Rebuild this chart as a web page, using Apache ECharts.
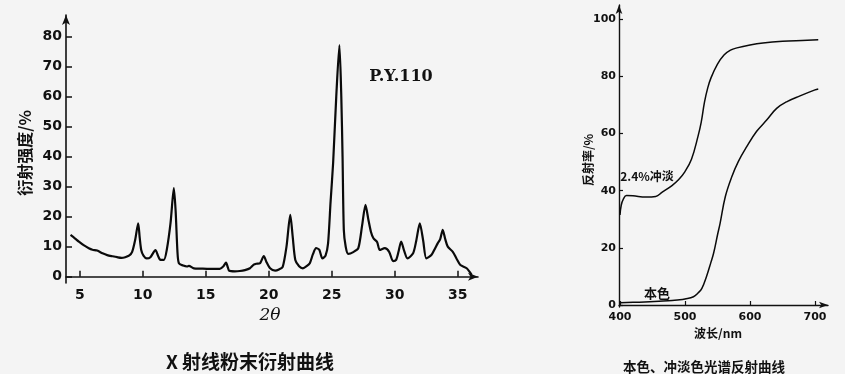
<!DOCTYPE html>
<html>
<head>
<meta charset="utf-8">
<script src="https://cdn.jsdelivr.net/npm/echarts@6/dist/echarts.min.js"></script>
<style>
html,body{margin:0;padding:0;background:#f4f4f4;}
#chart{width:845px;height:374px;}
</style>
</head>
<body>
<div id="chart"></div>
<script>
// ---- Left chart: X-ray powder diffraction ----
var xrdTheta = [4.26,4.6,4.92,5.3,5.71,6.0,6.37,6.8,7.17,7.6,7.96,8.3,8.6,8.9,9.15,9.4,9.63,9.75,9.87,10.05,10.3,10.6,11.0,11.2,11.4,11.67,11.9,12.2,12.46,12.6,12.75,12.86,13.2,13.5,13.65,14.05,14.6,15.3,16.1,16.4,16.6,16.75,16.85,17.3,17.7,18.1,18.5,18.8,19.0,19.3,19.6,19.8,20.1,20.5,20.8,21.1,21.4,21.7,21.9,22.1,22.4,22.7,23.0,23.25,23.5,23.75,24.0,24.25,24.5,24.7,24.9,25.1,25.35,25.6,25.75,25.85,25.95,26.1,26.3,26.7,27.1,27.4,27.67,27.9,28.1,28.3,28.6,28.8,29.2,29.55,29.86,30.1,30.3,30.5,30.75,31.0,31.45,31.7,31.98,32.25,32.5,32.9,33.2,33.4,33.6,33.8,34.0,34.2,34.6,34.9,35.2,35.7,36.1];
var xrdIntensity = [13.9,12.8,11.7,10.5,9.5,9.0,8.7,7.8,7.2,6.8,6.5,6.3,6.5,7.0,8.3,12.5,17.8,13,8.9,7.0,6.1,6.5,8.9,7.0,5.6,5.6,9,18,29.5,22,8,4.5,3.7,3.4,3.6,2.8,2.7,2.6,2.6,3.5,4.7,3.0,2.0,1.8,1.9,2.2,2.8,4.0,4.3,4.5,6.9,5.0,2.8,2.0,2.4,3.3,10,20.6,13,5.6,3.5,2.8,3.5,4.5,7.5,9.5,9.0,6.1,7.0,11.1,25,37.8,60,77.2,60,40,15.6,10,7.6,8.2,9.5,17,23.9,19,15,12.8,11.5,8.9,9.5,8.3,5.2,5.6,8.5,11.7,8.5,6.1,7.8,12,17.8,12,6.1,7.2,9.5,11.1,12.5,15.6,12.5,10,8.3,6,3.9,2.8,0.6];
var xrdXTicks = [5,10,15,20,25,30,35];
var xrdYTicks = [0,10,20,30,40,50,60,70,80];

// ---- Right chart: spectral reflectance ----
var tintWavelength = [400,402,405,410,420,440,455,465,480,490,500,510,520,525,530,535,540,550,560,570,580,600,620,650,680,705];
var tintReflect = [31.5,35,37,38.3,38.2,37.8,38,39.5,41.8,43.8,46.7,51,59,64,71,76,79.5,84.3,87.5,89.2,90,91,91.7,92.3,92.6,92.8];
var massWavelength = [400,430,460,480,492,500,513,520,526,533,540,544,550,554,562,572,582,595,610,626,641,657,677,700,705];
var massReflect = [0.8,1.0,1.3,1.6,1.8,2.1,2.9,4.2,5.8,9.9,15,18.1,24.5,28.6,37.9,44.9,50.2,55.4,60.7,64.8,68.8,71.2,73.2,75.3,75.6];
var specXTicks = [400,500,600,700];
var specYTicks = [0,20,40,60,80,100];

function pairs(xs, ys){ return xs.map(function(x,i){ return [x, ys[i]]; }); }

var axisCommon = {
  axisLine:{show:true, lineStyle:{color:'#111', width:1.6}, symbol:['none','arrow'], symbolSize:[6,10]},
  splitLine:{show:false}
};

var chart = echarts.init(document.getElementById('chart'), null, {renderer:'canvas'});
chart.setOption({
  backgroundColor:'#f4f4f4',
  animation:false,
  grid:[
    {left:66, top:15, width:412, height:268},
    {left:619, top:5, width:209, height:302}
  ],
  xAxis:[
    Object.assign({}, axisCommon, {
      gridIndex:0, type:'value', min:3.9, max:36.6,
      axisTick:{show:true, inside:true, length:6, customValues:xrdXTicks, lineStyle:{color:'#111', width:1.5}},
      axisLabel:{customValues:xrdXTicks, margin:5, color:'#111', fontFamily:'DejaVu Sans', fontWeight:'bold', fontSize:14}
    }),
    Object.assign({}, axisCommon, {
      gridIndex:1, type:'value', min:398.5, max:720,
      axisLine:{show:true, lineStyle:{color:'#111', width:1.4}, symbol:['none','arrow'], symbolSize:[5,9]},
      axisTick:{show:true, inside:true, length:4, customValues:specXTicks, lineStyle:{color:'#111', width:1.2}},
      axisLabel:{customValues:specXTicks, margin:5, color:'#111', fontFamily:'DejaVu Sans', fontWeight:'bold', fontSize:11}
    })
  ],
  yAxis:[
    Object.assign({}, axisCommon, {
      gridIndex:0, type:'value', min:-2.1, max:87.2,
      axisTick:{show:true, inside:true, length:6, customValues:xrdYTicks, lineStyle:{color:'#111', width:1.5}},
      axisLabel:{customValues:xrdYTicks, margin:4, color:'#111', fontFamily:'DejaVu Sans', fontWeight:'bold', fontSize:14}
    }),
    Object.assign({}, axisCommon, {
      gridIndex:1, type:'value', min:-0.7, max:105,
      axisLine:{show:true, lineStyle:{color:'#111', width:1.4}, symbol:['none','arrow'], symbolSize:[5,9]},
      axisTick:{show:true, inside:true, length:4, customValues:specYTicks, lineStyle:{color:'#111', width:1.2}},
      axisLabel:{customValues:specYTicks, margin:3, color:'#111', fontFamily:'DejaVu Sans', fontWeight:'bold', fontSize:11}
    })
  ],
  series:[
    {type:'line', xAxisIndex:0, yAxisIndex:0, data:pairs(xrdTheta, xrdIntensity), showSymbol:false, smooth:0.25,
     lineStyle:{color:'#0a0a0a', width:2.2}},
    {type:'line', xAxisIndex:1, yAxisIndex:1, data:pairs(tintWavelength, tintReflect), showSymbol:false, smooth:0.4,
     lineStyle:{color:'#0a0a0a', width:1.5}},
    {type:'line', xAxisIndex:1, yAxisIndex:1, data:pairs(massWavelength, massReflect), showSymbol:false, smooth:0.4,
     lineStyle:{color:'#0a0a0a', width:1.5}}
  ],
  graphic:[
    {type:'text', x:25, y:153, rotation:Math.PI/2, style:{text:'衍射强度/%', fill:'#111', font:'bold 16px "Noto Sans CJK SC"', align:'center', verticalAlign:'middle'}},
    {type:'text', x:270, y:316, style:{text:'2θ', fill:'#111', font:'italic 17px "DejaVu Serif"', align:'center', verticalAlign:'middle'}},
    {type:'text', x:401, y:77, style:{text:'P.Y.110', fill:'#111', font:'bold 16px "DejaVu Serif"', align:'center', verticalAlign:'middle'}},
    {type:'text', x:250, y:362, style:{text:'X 射线粉末衍射曲线', fill:'#111', font:'bold 19px "Noto Sans CJK SC"', align:'center', verticalAlign:'middle'}},
    {type:'text', x:588, y:160, rotation:Math.PI/2, style:{text:'反射率/%', fill:'#111', font:'bold 12px "Noto Sans CJK SC"', align:'center', verticalAlign:'middle'}},
    {type:'text', x:647, y:176, style:{text:'2.4%冲淡', fill:'#111', font:'bold 12px "Noto Sans CJK SC"', align:'center', verticalAlign:'middle'}},
    {type:'text', x:657, y:293, style:{text:'本色', fill:'#111', font:'bold 13px "Noto Sans CJK SC"', align:'center', verticalAlign:'middle'}},
    {type:'text', x:718, y:333, style:{text:'波长/nm', fill:'#111', font:'bold 12px "Noto Sans CJK SC"', align:'center', verticalAlign:'middle'}},
    {type:'text', x:704, y:367, style:{text:'本色、冲淡色光谱反射曲线', fill:'#111', font:'bold 13.5px "Noto Sans CJK SC"', align:'center', verticalAlign:'middle'}}
  ]
});
</script>
</body>
</html>
